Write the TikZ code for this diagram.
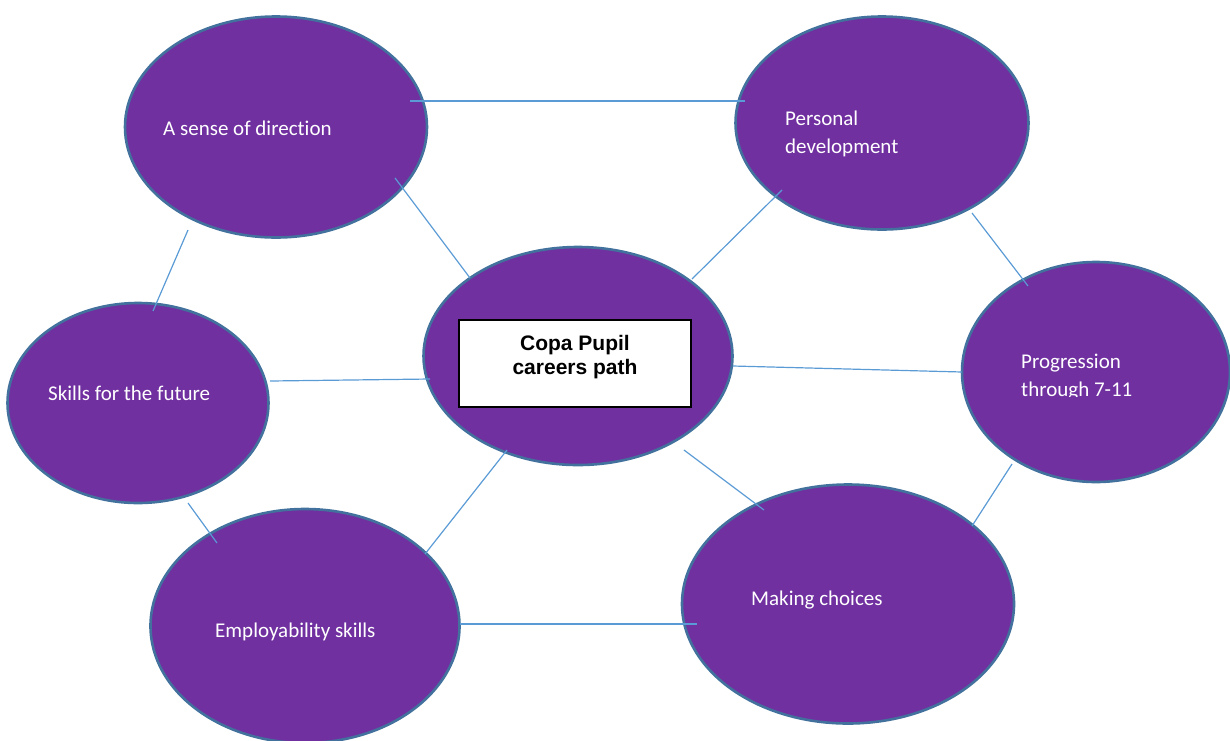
\documentclass[tikz,border=0pt]{standalone}
\usepackage{fontspec}
\setmainfont[Ligatures=NoCommon]{Carlito}
\newfontfamily\boxfont{Liberation Sans}
\usetikzlibrary{shapes.geometric}
\definecolor{bubblefill}{HTML}{7030A0}
\definecolor{bubbleedge}{HTML}{41719C}
\definecolor{linkblue}{HTML}{5B9BD5}
\begin{document}
\begin{tikzpicture}[x=1pt,y=-1pt,
  bubble/.style={ellipse, fill=bubblefill, draw=bubbleedge, line width=2.6pt, inner sep=0pt},
  bubbletext/.style={text=white, font=\fontsize{21}{28}\selectfont, align=left, anchor=west, inner sep=0pt},
  link/.style={draw=linkblue, line width=1.2pt}]
\useasboundingbox (0,0) rectangle (1230,740);

% bubbles
\node[bubble, minimum width=302pt, minimum height=221pt] (sense) at (276,127) {};
\node[bubble, minimum width=293pt, minimum height=213pt] (personal) at (882,123) {};
\node[bubble, minimum width=309pt, minimum height=218pt] (core) at (578,356) {};
\node[bubble, minimum width=268pt, minimum height=220pt] (progress) at (1096,372) {};
\node[bubble, minimum width=261pt, minimum height=200pt] (skills) at (138,403) {};
\node[bubble, minimum width=309pt, minimum height=234pt] (employ) at (305,626) {};
\node[bubble, minimum width=332pt, minimum height=239pt] (choices) at (848,604) {};

% central title box
\node[draw=black, fill=white, line width=1.3pt, minimum width=232pt, minimum height=87pt, inner sep=0pt] (titlebox) at (575,363.5) {};
\node[font=\boxfont\bfseries\fontsize{21}{24}\selectfont, align=center, inner sep=0pt] (title) at (575,357.5) {Copa Pupil\\careers path};

% labels
\node[bubbletext] (tsense) at (163,128.5) {A sense of direction};
\node[bubbletext] (tpersonal) at (785,133.5) {Personal\\development};
\begin{scope}
  \clip (960,340) rectangle (1230,396);
  \node[bubbletext] (tprogress) at (1021,377.5) {Progression\\through 7-11};
\end{scope}
\node[bubbletext] (tskills) at (48,393.5) {Skills for the future};
\node[bubbletext] (temploy) at (215,631.5) {Employability skills};
\node[bubbletext] (tchoices) at (751,599.5) {Making choices};

% connector end points
\coordinate (sp1) at (410,101);   \coordinate (sp2) at (745,101);
\coordinate (sc1) at (395,178);   \coordinate (sc2) at (470,278);
\coordinate (ss1) at (188,230);   \coordinate (ss2) at (153,311);
\coordinate (pc1) at (782,190);   \coordinate (pc2) at (692,279);
\coordinate (pp1) at (972,213);   \coordinate (pp2) at (1028,286);
\coordinate (cp1) at (733,366);   \coordinate (cp2) at (962,372);
\coordinate (ck1) at (430,379);   \coordinate (ck2) at (270,381);
\coordinate (ce1) at (507,450);   \coordinate (ce2) at (425,554);
\coordinate (cm1) at (684,450);   \coordinate (cm2) at (764,510);
\coordinate (pm1) at (1012,464);  \coordinate (pm2) at (972,526);
\coordinate (ke1) at (188,503);   \coordinate (ke2) at (217,543);
\coordinate (em1) at (460,624);   \coordinate (em2) at (697,624);

% connectors
\draw[link] (sp1) -- (sp2);
\draw[link] (sc1) -- (sc2);
\draw[link] (ss1) -- (ss2);
\draw[link] (pc1) -- (pc2);
\draw[link] (pp1) -- (pp2);
\draw[link] (cp1) -- (cp2);
\draw[link] (ck1) -- (ck2);
\draw[link] (ce1) -- (ce2);
\draw[link] (cm1) -- (cm2);
\draw[link] (pm1) -- (pm2);
\draw[link] (ke1) -- (ke2);
\draw[link] (em1) -- (em2);
\end{tikzpicture}
\end{document}
